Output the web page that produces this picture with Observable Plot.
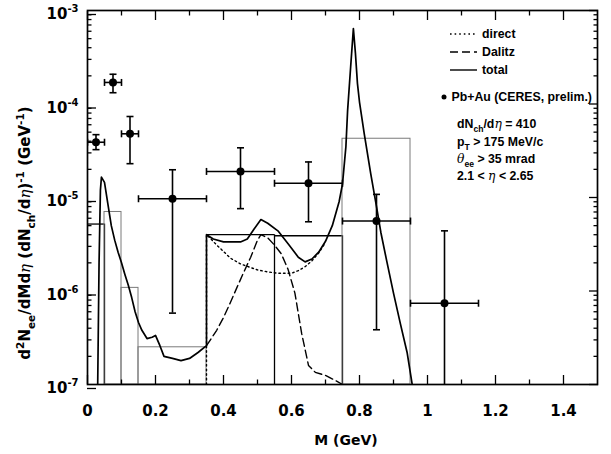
<!DOCTYPE html>
<html>
<head>
<meta charset="utf-8">
<script src="https://cdn.jsdelivr.net/npm/d3@7"></script>
<script src="https://cdn.jsdelivr.net/npm/@observablehq/plot@0.6"></script>
<style>
  body { margin: 0; background: #fff; }
  #chart svg { display: block; }
</style>
</head>
<body>
<div id="chart"></div>
<script>
// ---------- data ----------
// CERES Pb+Au points (mass bin centre, bin edges, value, error band)
const ceresM   = [0.025, 0.075, 0.125, 0.25, 0.45, 0.65, 0.85, 1.05];
const ceresMlo = [0.00, 0.05, 0.10, 0.15, 0.35, 0.55, 0.75, 0.95];
const ceresMhi = [0.05, 0.10, 0.15, 0.35, 0.55, 0.75, 0.95, 1.15];
const ceresY   = [3.9e-5, 1.7e-4, 4.8e-5, 9.7e-6, 1.9e-5, 1.42e-5, 5.6e-6, 7.4e-7];
const ceresYlo = [3.25e-5, 1.32e-4, 2.3e-5, 5.8e-7, 7.6e-6, 5.5e-6, 3.85e-7, 5e-8];
const ceresYhi = [4.7e-5, 2.08e-4, 7.35e-5, 1.98e-5, 3.4e-5, 2.4e-5, 1.08e-5, 4.4e-6];

// histogram bins (black outline)
const binBlackLo  = [0.00, 0.35, 0.55];
const binBlackHi  = [0.05, 0.55, 0.75];
const binBlackVal = [5.2e-6, 4.0e-6, 3.9e-6];
// histogram bins (grey outline)
const binGrayLo  = [0.05, 0.10, 0.15, 0.75];
const binGrayHi  = [0.10, 0.15, 0.35, 0.95];
const binGrayVal = [7.0e-6, 1.08e-6, 2.5e-7, 4.25e-5];

// total (solid)
const totalM = [0.030, 0.034, 0.038, 0.041, 0.050, 0.060, 0.070, 0.080, 0.090, 0.100, 0.110, 0.120, 0.130, 0.140, 0.150, 0.160, 0.175, 0.190, 0.200, 0.213, 0.225, 0.250, 0.275, 0.300, 0.325, 0.350,
  0.350, 0.370, 0.400, 0.450, 0.470, 0.490, 0.510, 0.530, 0.560, 0.590, 0.620, 0.640, 0.660, 0.680, 0.700, 0.720, 0.740, 0.750, 0.760, 0.765, 0.774, 0.782, 0.788, 0.794, 0.800, 0.814, 0.833, 0.850, 0.863, 0.880, 0.900, 0.920, 0.940, 0.955];
const totalY = [1.0e-7, 2.0e-6, 1.2e-5, 1.65e-5, 1.45e-5, 8.5e-6, 5.0e-6, 3.5e-6, 2.6e-6, 2.0e-6, 1.5e-6, 1.15e-6, 8.5e-7, 6.0e-7, 4.6e-7, 3.8e-7, 3.1e-7, 3.2e-7, 3.35e-7, 2.6e-7, 2.0e-7, 1.9e-7, 1.8e-7, 1.9e-7, 2.2e-7, 2.6e-7,
  4.0e-6, 3.6e-6, 3.35e-6, 3.35e-6, 3.6e-6, 4.6e-6, 5.8e-6, 5.3e-6, 4.4e-6, 3.2e-6, 2.3e-6, 2.05e-6, 2.2e-6, 2.6e-6, 3.4e-6, 5.0e-6, 9.0e-6, 1.4e-5, 3.5e-5, 8.5e-5, 2.5e-4, 6.4e-4, 3.5e-4, 1.65e-4, 1.05e-4, 4.8e-5, 1.8e-5, 8.0e-6, 4.2e-6, 2.1e-6, 9.5e-7, 4.5e-7, 2.2e-7, 1.0e-7];

// Dalitz (dashed)
const dalitzM = [0.35, 0.38, 0.40, 0.42, 0.44, 0.46, 0.48, 0.50, 0.51, 0.53, 0.55, 0.57, 0.59, 0.61, 0.63, 0.65, 0.67, 0.70, 0.73, 0.75, 0.765];
const dalitzY = [2.6e-7, 3.8e-7, 5.2e-7, 7.5e-7, 1.1e-6, 1.6e-6, 2.3e-6, 3.5e-6, 4.0e-6, 3.7e-6, 3.1e-6, 2.5e-6, 1.7e-6, 9.5e-7, 3.5e-7, 1.6e-7, 1.35e-7, 1.25e-7, 1.1e-7, 1.0e-7, 8.5e-8];

// direct (dotted)
const directM = [0.35, 0.35, 0.36, 0.38, 0.40, 0.42, 0.45, 0.48, 0.50, 0.53, 0.56, 0.60, 0.62, 0.64, 0.66, 0.68, 0.70];
const directY = [1.0e-7, 4.0e-6, 3.7e-6, 3.1e-6, 2.65e-6, 2.25e-6, 1.95e-6, 1.78e-6, 1.68e-6, 1.6e-6, 1.55e-6, 1.55e-6, 1.65e-6, 1.82e-6, 2.1e-6, 2.55e-6, 3.3e-6];

// axes
const xDomain = [0, 1.5];
const yDomain = [1e-7, 1e-3];
const xMajorTicks = [0, 0.2, 0.4, 0.6, 0.8, 1, 1.2, 1.4];
const xMinorTicks = [0.1, 0.3, 0.5, 0.7, 0.9, 1.1, 1.3];
const yDecades = [1e-7, 1e-6, 1e-5, 1e-4, 1e-3];
const yMinorTicks = yDecades.slice(0, -1).flatMap(d => [2,3,4,5,6,7,8,9].map(k => k * d));

const legendLabels = ["direct", "Dalitz", "total"];
const dataLabel = "Pb+Au (CERES, prelim.)";

// ---------- tables ----------
const ceres = ceresM.map((m, i) => ({m, mlo: ceresMlo[i], mhi: ceresMhi[i], y: ceresY[i], ylo: ceresYlo[i], yhi: ceresYhi[i]}));
const blackBins = binBlackLo.map((lo, i) => ({lo, hi: binBlackHi[i], val: binBlackVal[i]}));
const grayBins = binGrayLo.map((lo, i) => ({lo, hi: binGrayHi[i], val: binGrayVal[i]}));
const total = totalM.map((m, i) => ({m, v: totalY[i]}));
const dalitz = dalitzM.map((m, i) => ({m, v: dalitzY[i]}));
const direct = directM.map((m, i) => ({m, v: directY[i]}));

const FONT = "'DejaVu Sans', 'Liberation Sans', Arial, sans-serif";
const LFONT = "'Liberation Sans', Arial, Helvetica, sans-serif";
const capH = {draw(ctx) { ctx.moveTo(-3.5, 0); ctx.lineTo(3.5, 0); }};
const capV = {draw(ctx) { ctx.moveTo(0, -3.5); ctx.lineTo(0, 3.5); }};
const yMin = yDomain[0];

const chart = Plot.plot({
  width: 611, height: 454,
  marginLeft: 87, marginRight: 14, marginTop: 10, marginBottom: 70,
  style: {fontFamily: FONT, background: "white", color: "black"},
  x: {domain: xDomain},
  y: {type: "log", domain: yDomain},
  marks: [
    // histograms
    Plot.ruleY(blackBins, {y: "val", x1: "lo", x2: "hi", stroke: "black", strokeWidth: 1.3}),
    Plot.ruleX(blackBins, {x: "hi", y1: yMin, y2: "val", stroke: "black", strokeWidth: 1.3}),
    Plot.rect(grayBins, {x1: "lo", x2: "hi", y1: yMin, y2: "val", fill: "none", stroke: "#7a7a7a", strokeWidth: 1}),
    // model curves
    Plot.line(direct, {x: "m", y: "v", stroke: "black", strokeWidth: 1.4, strokeDasharray: "1.6,3", clip: true}),
    Plot.line(dalitz, {x: "m", y: "v", stroke: "black", strokeWidth: 1.4, strokeDasharray: "8,4", clip: true}),
    Plot.line(total, {x: "m", y: "v", stroke: "black", strokeWidth: 1.7, clip: true}),
    // data
    Plot.ruleX(ceres, {x: "m", y1: "ylo", y2: "yhi", stroke: "black", strokeWidth: 1.6, clip: true}),
    Plot.ruleY(ceres, {y: "y", x1: "mlo", x2: "mhi", stroke: "black", strokeWidth: 1.6, clip: true}),
    Plot.dot(ceres, {x: "m", y: "yhi", symbol: capH, stroke: "black", fill: "none", strokeWidth: 1.6, clip: true}),
    Plot.dot(ceres, {x: "m", y: "ylo", symbol: capH, stroke: "black", fill: "none", strokeWidth: 1.6, clip: true}),
    Plot.dot(ceres, {x: "mlo", y: "y", symbol: capV, stroke: "black", fill: "none", strokeWidth: 1.6, clip: true}),
    Plot.dot(ceres, {x: "mhi", y: "y", symbol: capV, stroke: "black", fill: "none", strokeWidth: 1.6, clip: true}),
    Plot.dot(ceres, {x: "m", y: "y", r: 4, fill: "black", stroke: "none"}),
    // frame & axes
    Plot.frame({stroke: "black", strokeWidth: 1.7}),
    Plot.axisX(xMajorTicks, {anchor: "bottom", tickSize: -9, tickPadding: 30, strokeWidth: 1.3, tickFormat: d3.format("~g"), fontSize: 15, fontWeight: "bold", label: null}),
    Plot.axisX(xMinorTicks, {anchor: "bottom", tickSize: -4.5, strokeWidth: 1.3, fill: "none", label: null}),
    Plot.axisX(xMajorTicks, {anchor: "top", tickSize: -9, strokeWidth: 1.3, fill: "none", label: null}),
    Plot.axisX(xMinorTicks, {anchor: "top", tickSize: -4.5, strokeWidth: 1.3, fill: "none", label: null}),
    Plot.axisY(yDecades, {anchor: "left", tickSize: -9, tickPadding: 18, dy: 4, strokeWidth: 1.3, tickFormat: d => "10^" + Math.round(Math.log10(d)), fontSize: 15, fontWeight: "bold", label: null}),
    Plot.axisY(yMinorTicks, {anchor: "left", tickSize: -4.5, strokeWidth: 1.3, fill: "none", label: null}),
    Plot.axisY(yDecades, {anchor: "right", tickSize: -9, strokeWidth: 1.3, fill: "none", label: null}),
    Plot.axisY(yMinorTicks, {anchor: "right", tickSize: -4.5, strokeWidth: 1.3, fill: "none", label: null})
  ]
});
document.getElementById("chart").appendChild(chart);

// ---------- text decorations ----------
const svg = d3.select(chart);

// superscript exponents on y tick labels
svg.selectAll('g[aria-label="y-axis tick label"] text').each(function () {
  const t = d3.select(this);
  const m = t.text().match(/^10\^(-?\d+)$/);
  if (m) {
    t.text("10");
    t.append("tspan").attr("dy", -7).attr("font-size", 10).text(m[1]);
  }
});

function rich(parent, parts, size, family) {
  const t = parent.append("text").attr("font-size", size).attr("font-weight", "bold").attr("font-family", family).attr("fill", "black");
  let cur = 0;
  for (const [s, k] of parts) {
    const target = k === "sub" ? size * 0.3 : k === "sup" ? -size * 0.42 : 0;
    const ts = t.append("tspan").attr("dy", target - cur).text(s);
    cur = target;
    if (k === "sub" || k === "sup") ts.attr("font-size", size * 0.7);
    if (k === "it") ts.attr("font-style", "italic").attr("font-family", "'DejaVu Serif', serif").attr("font-weight", "normal");
  }
  return t;
}

// x label
svg.append("text").attr("x", 346).attr("y", 440).attr("dy", "0.35em").attr("text-anchor", "middle")
  .attr("font-family", FONT).attr("font-weight", "bold").attr("font-size", 14).text("M (GeV)");

// y label
const yl = svg.append("g").attr("transform", "translate(30,233) rotate(-90)").attr("text-anchor", "middle");
rich(yl, [["d"], ["2", "sup"], ["N"], ["ee", "sub"], ["/dMd"], ["η", "it"], [" (dN"], ["ch", "sub"], ["/d"], ["η", "it"], [")"], ["-1", "sup"], [" (GeV"], ["-1", "sup"], [")"]], 15, FONT)
  .attr("dy", "0.35em");

// legend
const LS = 12.3;
const lg = svg.append("g").attr("text-anchor", "start");
const dashes = ["1.6,3", "8,4", null];
const legendY = [34, 52, 70];
legendLabels.forEach((lab, i) => {
  const ln = lg.append("line").attr("x1", 450).attr("x2", 477).attr("y1", legendY[i]).attr("y2", legendY[i])
    .attr("stroke", "black").attr("stroke-width", 1.4);
  if (dashes[i]) ln.attr("stroke-dasharray", dashes[i]);
  lg.append("text").attr("x", 482).attr("y", legendY[i]).attr("dy", "0.35em").attr("text-anchor", "start")
    .attr("font-family", LFONT).attr("font-weight", "bold").attr("font-size", LS).text(lab);
});
lg.append("circle").attr("cx", 444).attr("cy", 97).attr("r", 2.5).attr("fill", "black");
lg.append("text").attr("x", 451.5).attr("y", 97).attr("dy", "0.35em").attr("text-anchor", "start")
  .attr("font-family", LFONT).attr("font-weight", "bold").attr("font-size", LS).text(dataLabel);

const notes = [
  [["dN"], ["ch", "sub"], ["/d"], ["η", "it"], [" = 410"]],
  [["p"], ["T", "sub"], [" > 175 MeV/c"]],
  [["θ", "it"], ["ee", "sub"], [" > 35 mrad"]],
  [["2.1 < "], ["η", "it"], [" < 2.65"]]
];
const noteY = [128, 146, 163, 180];
notes.forEach((parts, i) => {
  rich(lg, parts, LS, LFONT).attr("x", 457).attr("y", noteY[i]).attr("dy", 4).attr("text-anchor", "start");
});
</script>
</body>
</html>
